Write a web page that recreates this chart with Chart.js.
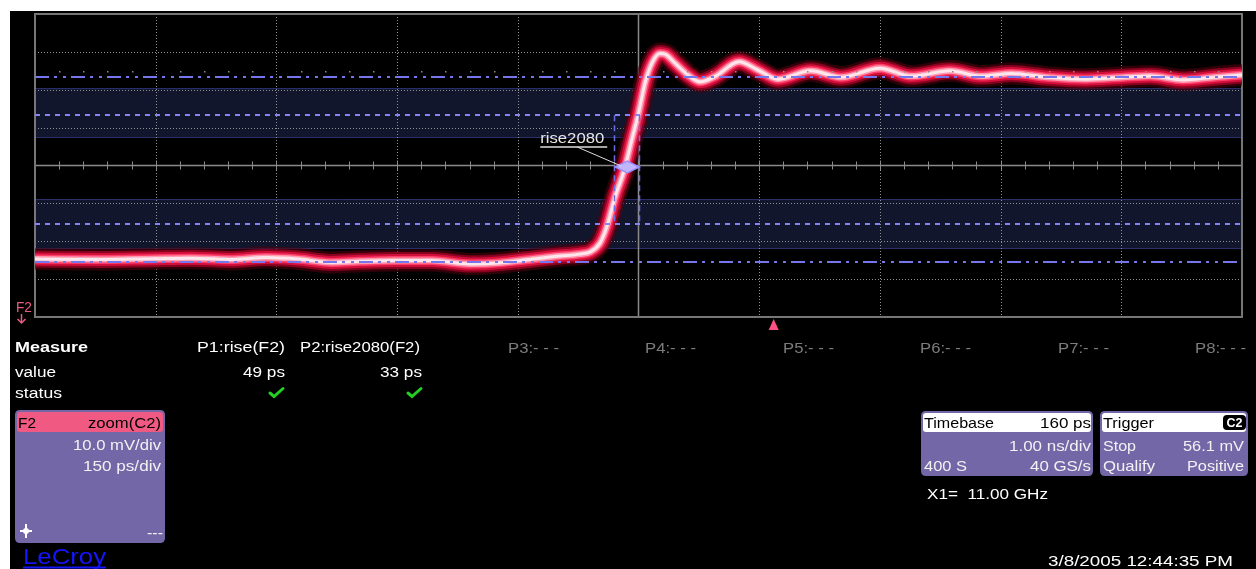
<!DOCTYPE html>
<html>
<head>
<meta charset="utf-8">
<script src="https://cdn.jsdelivr.net/npm/chart.js@4.4.1/dist/chart.umd.min.js"></script>
<style>
  html, body { margin: 0; padding: 0; background: #fff; }
  canvas { display: block; }
</style>
</head>
<body>
<canvas id="scope" width="1256" height="569"></canvas>
<script>
// F2 = zoom(C2): 150 ps/div, 10 mV/div
const timePs = [-750, -669, -600, -556, -508, -462, -423, -381, -346, -304, -257, -209, -186, -139, -98, -73,
  -60, -48, -39.5, -29, -17, -8.5, 0, 8, 16.5, 26.5, 34, 45.5, 61.5, 76.5, 95, 125, 148.5, 173, 214, 252,
  300, 339, 387, 426, 464, 508, 556, 603, 636, 677, 715, 750];
const voltsMv = [-24.7, -24.8, -24.6, -24.5, -24.8, -24.3, -24.7, -25.6, -25.3, -25.1, -25.1, -26.0, -25.9, -24.9, -23.9, -23.4,
  -22.8, -20.5, -16.2, -8.2, -0.7, 6.7, 13.8, 21.7, 27.0, 29.6, 29.3, 27.0, 23.9, 22.1, 23.5, 27.4, 25.2, 22.8, 25.0, 23.3,
  25.7, 23.6, 25.0, 23.6, 24.3, 23.3, 22.8, 23.3, 23.6, 22.6, 23.3, 23.9];

const gridTimes = [-750, -600, -450, -300, -150, 0, 150, 300, 450, 600, 750];
const gridVolts = [-40, -30, -20, -10, 0, 10, 20, 30, 40];

const topLevel = 23.4;
const baseLevel = -25.4;
const thresholdLevels = [13.3, -15.4];          // 80% / 20%
const thresholdBands = [[20.4, 7.3], [-8.8, -22.0]];
const riseCursors = [-30.5, 0.5];
const riseMarker = [-14, -0.4];
const triggerTime = 168;

const measureNames = ['P1:rise(F2)', 'P2:rise2080(F2)', 'P3:- - -', 'P4:- - -', 'P5:- - -', 'P6:- - -', 'P7:- - -', 'P8:- - -'];
const measureValues = ['49 ps', '33 ps'];

const FONT = '"Liberation Sans", Arial, sans-serif';

function txt(ctx, s, x, y, font, color, align, w) {
  ctx.save();
  ctx.font = font;
  const m = ctx.measureText(s).width;
  ctx.translate(x, y);
  if (w) ctx.scale(w / m, 1);
  ctx.textAlign = align || 'left';
  ctx.textBaseline = 'alphabetic';
  ctx.fillStyle = color;
  ctx.fillText(s, 0, 0);
  ctx.restore();
}

function rrect(ctx, x, y, w, h, r, fill) {
  ctx.beginPath();
  ctx.moveTo(x + r, y);
  ctx.lineTo(x + w - r, y);
  ctx.quadraticCurveTo(x + w, y, x + w, y + r);
  ctx.lineTo(x + w, y + h - r);
  ctx.quadraticCurveTo(x + w, y + h, x + w - r, y + h);
  ctx.lineTo(x + r, y + h);
  ctx.quadraticCurveTo(x, y + h, x, y + h - r);
  ctx.lineTo(x, y + r);
  ctx.quadraticCurveTo(x, y, x + r, y);
  ctx.closePath();
  ctx.fillStyle = fill;
  ctx.fill();
}

function hline(ctx, x1, x2, py) {
  ctx.beginPath(); ctx.moveTo(x1, py); ctx.lineTo(x2, py); ctx.stroke();
}
function vline(ctx, px, y1, y2) {
  ctx.beginPath(); ctx.moveTo(px, y1); ctx.lineTo(px, y2); ctx.stroke();
}

const scopePlugin = {
  id: 'scope',
  beforeDraw(chart) {
    const ctx = chart.ctx;
    ctx.save();
    ctx.fillStyle = '#fff';
    ctx.fillRect(0, 0, chart.width, chart.height);
    ctx.fillStyle = '#000';
    ctx.fillRect(10, 11, chart.width - 10, chart.height - 11);
    ctx.restore();
  },
  beforeDatasetsDraw(chart) {
    const { ctx, chartArea: a, scales: { x, y } } = chart;
    ctx.save();
    // shaded threshold bands
    thresholdBands.forEach(([hi, lo]) => {
      const y1 = Math.round(y.getPixelForValue(hi)), y2 = Math.round(y.getPixelForValue(lo));
      ctx.fillStyle = '#12162c';
      ctx.fillRect(a.left, y1, a.width, y2 - y1);
      ctx.strokeStyle = '#2a2f6a';
      ctx.lineWidth = 1;
      hline(ctx, a.left, a.right, y1 + 0.5);
      hline(ctx, a.left, a.right, y2 - 0.5);
    });
    // dotted grid
    ctx.strokeStyle = '#929292';
    ctx.lineWidth = 1;
    ctx.setLineDash([1, 2]);
    gridTimes.slice(1, -1).forEach(t => {
      if (t === 0) return;
      vline(ctx, Math.round(x.getPixelForValue(t)) + 0.5, a.top, a.bottom);
    });
    gridVolts.slice(1, -1).forEach(v => {
      if (v === 0) return;
      hline(ctx, a.left, a.right, Math.round(y.getPixelForValue(v)) + 0.5);
    });
    // centre axes with minor ticks
    ctx.setLineDash([]);
    ctx.strokeStyle = '#8a8a8a';
    ctx.lineWidth = 1.5;
    const cx = x.getPixelForValue(0), cy = y.getPixelForValue(0);
    vline(ctx, cx, a.top, a.bottom);
    hline(ctx, a.left, a.right, cy);
    ctx.lineWidth = 1;
    for (let i = 0; i < gridTimes.length - 1; i++) {
      const step = (gridTimes[i + 1] - gridTimes[i]) / 5;
      for (let k = 1; k < 5; k++) {
        const px = Math.round(x.getPixelForValue(gridTimes[i] + k * step)) + 0.5;
        vline(ctx, px, cy - 4, cy + 4);
      }
      if (i > 0) vline(ctx, Math.round(x.getPixelForValue(gridTimes[i])) + 0.5, cy - 5, cy + 5);
    }
    // frame
    ctx.strokeStyle = '#767676';
    ctx.lineWidth = 2;
    ctx.strokeRect(a.left, a.top, a.width, a.height);
    ctx.restore();
  },
  afterDatasetsDraw(chart) {
    const { ctx, chartArea: a, scales: { x, y } } = chart;
    ctx.save();
    // top / base level lines (dash-dot)
    ctx.strokeStyle = '#7676ec';
    ctx.lineWidth = 2;
    ctx.setLineDash([14, 5, 3, 6, 3, 5]);
    [topLevel, baseLevel].forEach(v => hline(ctx, a.left, a.right, Math.round(y.getPixelForValue(v))));
    // dots above the top level line
    ctx.setLineDash([]);
    ctx.fillStyle = '#8a8a8a';
    const dy = Math.round(y.getPixelForValue(topLevel)) - 6;
    for (let i = 0; i < gridTimes.length - 1; i++) {
      const step = (gridTimes[i + 1] - gridTimes[i]) / 5;
      for (let k = 1; k < 5; k++) {
        ctx.fillRect(Math.round(x.getPixelForValue(gridTimes[i] + k * step)), dy, 1.5, 1.5);
      }
    }
    // 80% / 20% threshold lines
    ctx.strokeStyle = '#8585f2';
    ctx.lineWidth = 2;
    ctx.setLineDash([5, 5]);
    thresholdLevels.forEach(v => hline(ctx, a.left, a.right, Math.round(y.getPixelForValue(v))));
    // rise cursors
    ctx.strokeStyle = '#6c6ce4';
    ctx.lineWidth = 1.5;
    ctx.setLineDash([6, 4]);
    const yTop = y.getPixelForValue(thresholdLevels[0]), yBot = y.getPixelForValue(thresholdLevels[1]);
    riseCursors.forEach(t => vline(ctx, Math.round(x.getPixelForValue(t)) + 0.5, yTop, yBot));
    ctx.setLineDash([]);
    // rise2080 marker
    const mx = x.getPixelForValue(riseMarker[0]), my = y.getPixelForValue(riseMarker[1]);
    ctx.beginPath();
    ctx.moveTo(mx - 12, my); ctx.lineTo(mx, my - 6); ctx.lineTo(mx + 12, my); ctx.lineTo(mx, my + 6);
    ctx.closePath();
    ctx.fillStyle = '#c0b6ff';
    ctx.fill();
    ctx.strokeStyle = '#9a8fff';
    ctx.lineWidth = 1.5;
    ctx.stroke();
    ctx.strokeStyle = '#dedede';
    ctx.lineWidth = 1.5;
    hline(ctx, mx - 87, mx - 20, my - 20);
    ctx.lineWidth = 1;
    ctx.beginPath(); ctx.moveTo(mx - 50, my - 20); ctx.lineTo(mx - 6, my - 1); ctx.stroke();
    txt(ctx, 'rise2080', mx - 87, my - 24, '15px ' + FONT, '#e8e8e8', 'left', 64);
    ctx.restore();
  },
  afterDraw(chart) {
    const { ctx, chartArea: a, scales: { x } } = chart;
    ctx.save();
    // F2 trace label + arrow
    txt(ctx, 'F2', 16, 312, '14px ' + FONT, '#ea5b84', 'left', 16);
    ctx.strokeStyle = '#ea5b84';
    ctx.lineWidth = 1.5;
    vline(ctx, 21.5, 314, 323);
    ctx.beginPath(); ctx.moveTo(17.5, 319); ctx.lineTo(21.5, 323); ctx.lineTo(25.5, 319); ctx.stroke();
    // trigger position
    const tx = x.getPixelForValue(triggerTime);
    ctx.beginPath();
    ctx.moveTo(tx, a.bottom + 2); ctx.lineTo(tx - 5, a.bottom + 13); ctx.lineTo(tx + 5, a.bottom + 13);
    ctx.closePath();
    ctx.fillStyle = '#ff5283';
    ctx.fill();

    // measure table
    const mf = '14px ' + FONT;
    txt(ctx, 'Measure', 15, 352, 'bold 14px ' + FONT, '#ffffff', 'left', 73);
    txt(ctx, 'value', 15, 377, mf, '#ffffff', 'left', 41);
    txt(ctx, 'status', 15, 398, mf, '#ffffff', 'left', 47);
    txt(ctx, measureNames[0], 197, 352, mf, '#ffffff', 'left', 88);
    txt(ctx, measureNames[1], 300, 352, mf, '#ffffff', 'left', 120);
    const pX = [508, 645, 783, 920, 1058, 1195];
    pX.forEach((px, i) => txt(ctx, measureNames[i + 2], px, 353, mf, '#7c7c7c', 'left', 51));
    txt(ctx, measureValues[0], 285, 377, mf, '#ffffff', 'right', 42);
    txt(ctx, measureValues[1], 422, 377, mf, '#ffffff', 'right', 42);
    ctx.strokeStyle = '#22cf22';
    ctx.lineWidth = 3;
    ctx.lineCap = 'round';
    [270, 408].forEach(cx0 => {
      ctx.beginPath(); ctx.moveTo(cx0, 393); ctx.lineTo(cx0 + 4, 396.5); ctx.lineTo(cx0 + 13, 388.5); ctx.stroke();
    });
    ctx.lineCap = 'butt';

    // F2 descriptor box
    const bf = '15px ' + FONT;
    rrect(ctx, 15, 410, 150, 133, 5, '#7467a8');
    rrect(ctx, 17, 412, 146, 20, 3, '#f05a82');
    txt(ctx, 'F2', 18, 428, bf, '#000', 'left', 18);
    txt(ctx, 'zoom(C2)', 161, 428, bf, '#000', 'right', 73);
    txt(ctx, '10.0 mV/div', 161, 450, bf, '#f2f2f2', 'right', 88);
    txt(ctx, '150 ps/div', 161, 471, bf, '#f2f2f2', 'right', 78);
    txt(ctx, '---', 163, 538, bf, '#f2f2f2', 'right', 16);
    ctx.strokeStyle = '#fff';
    ctx.fillStyle = '#fff';
    ctx.lineWidth = 2;
    vline(ctx, 26, 524, 538);
    hline(ctx, 20, 32, 531);
    ctx.beginPath(); ctx.arc(26, 531, 3, 0, Math.PI * 2); ctx.fill();

    // timebase box
    rrect(ctx, 921, 411, 172, 65, 5, '#7467a8');
    rrect(ctx, 923, 413, 168, 19, 3, '#ffffff');
    txt(ctx, 'Timebase', 924, 428, bf, '#000', 'left', 70);
    txt(ctx, '160 ps', 1091, 428, bf, '#000', 'right', 51);
    txt(ctx, '1.00 ns/div', 1091, 451, bf, '#f2f2f2', 'right', 82);
    txt(ctx, '400 S', 924, 471, bf, '#f2f2f2', 'left', 43);
    txt(ctx, '40 GS/s', 1091, 471, bf, '#f2f2f2', 'right', 61);

    // trigger box
    rrect(ctx, 1100, 411, 148, 65, 5, '#7467a8');
    rrect(ctx, 1102, 413, 144, 19, 3, '#ffffff');
    txt(ctx, 'Trigger', 1103, 428, bf, '#000', 'left', 51);
    rrect(ctx, 1223, 415, 23, 15, 4, '#000');
    txt(ctx, 'C2', 1234.5, 427, 'bold 12px ' + FONT, '#fff', 'center', 16);
    txt(ctx, 'Stop', 1103, 451, bf, '#f2f2f2', 'left', 33);
    txt(ctx, '56.1 mV', 1244, 451, bf, '#f2f2f2', 'right', 61);
    txt(ctx, 'Qualify', 1103, 471, bf, '#f2f2f2', 'left', 52);
    txt(ctx, 'Positive', 1244, 471, bf, '#f2f2f2', 'right', 57);

    txt(ctx, 'X1=  11.00 GHz', 927, 499, bf, '#ffffff', 'left', 121);
    txt(ctx, '3/8/2005 12:44:35 PM', 1048, 566, bf, '#ffffff', 'left', 185);

    // logo
    txt(ctx, 'LeCroy', 23, 564, '22px ' + FONT, '#1414ff', 'left', 83);
    ctx.strokeStyle = '#1414ff';
    ctx.lineWidth = 2;
    hline(ctx, 23, 106, 567.5);
    ctx.restore();
  }
};

// persistence glow: outer halo first, bright core last
const glow = [
  [22, 'rgba(80,0,15,0.6)'],
  [17, 'rgba(140,2,32,0.95)'],
  [13, '#d20f3b'],
  [9, '#ff3f69'],
  [6, '#ff9cb2'],
  [3, '#ffe6ec']
];

new Chart(document.getElementById('scope'), {
  type: 'line',
  data: {
    datasets: glow.map(([w, c], i) => ({
      data: timePs.map((t, j) => ({ x: t, y: voltsMv[j] })),
      borderColor: c,
      borderWidth: w,
      pointRadius: 0,
      fill: false,
      cubicInterpolationMode: 'monotone',
      borderCapStyle: 'round',
      borderJoinStyle: 'round',
      order: glow.length - i
    }))
  },
  options: {
    responsive: false,
    animation: false,
    events: [],
    layout: { padding: { left: 35, top: 14, right: 14, bottom: 252 } },
    plugins: { legend: { display: false }, tooltip: { enabled: false } },
    scales: {
      x: { type: 'linear', min: -750, max: 750, display: false },
      y: { type: 'linear', min: -40, max: 40, display: false }
    }
  },
  plugins: [scopePlugin]
});
</script>
</body>
</html>
